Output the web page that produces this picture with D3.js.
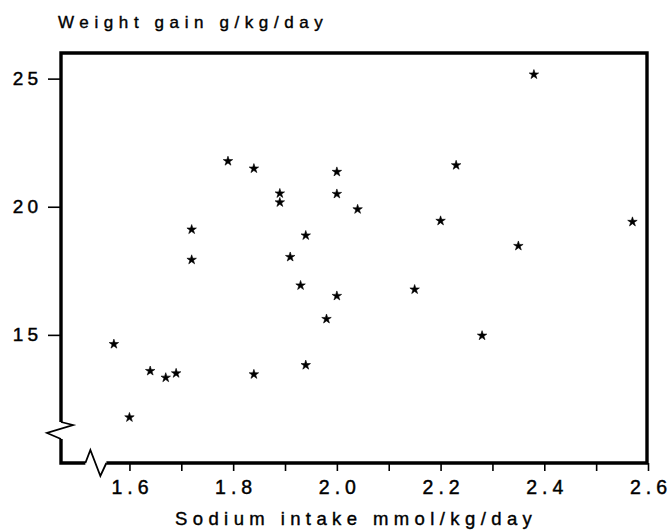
<!DOCTYPE html>
<html>
<head>
<meta charset="utf-8">
<script src="https://cdn.jsdelivr.net/npm/d3@7"></script>
<style>
  html, body { margin: 0; padding: 0; background: #fff; }
  svg { display: block; font-family: "Liberation Sans", Arial, Helvetica, sans-serif; }
</style>
</head>
<body>
<div id="chart"></div>
<script>
// Sodium intake (mmol/kg/day) and weight gain (g/kg/day), one entry per infant
const sodium = [1.57, 1.60, 1.64, 1.67, 1.69, 1.72, 1.72, 1.79, 1.84, 1.84,
                1.89, 1.89, 1.91, 1.93, 1.94, 1.94, 1.98, 2.00, 2.00, 2.00,
                2.04, 2.15, 2.20, 2.23, 2.28, 2.35, 2.38, 2.57];
const weightGain = [14.64, 11.78, 13.59, 13.33, 13.50, 19.11, 17.93, 21.78, 21.49, 13.46,
                    20.52, 20.17, 18.04, 16.93, 18.88, 13.82, 15.62, 21.36, 20.50, 16.52,
                    19.90, 16.77, 19.45, 21.62, 14.97, 18.47, 25.16, 19.41];
const xTicks = [1.6, 1.7, 1.8, 1.9, 2.0, 2.1, 2.2, 2.3, 2.4, 2.5, 2.6];
const xLabels = [1.6, 1.8, 2.0, 2.2, 2.4, 2.6];
const yTicks = [15, 20, 25];

(function() {
  const width = 670, height = 532;
  const margin = { top: 53, right: 23, bottom: 69, left: 61 };
  const L = margin.left, R = width - margin.right;
  const T = margin.top, B = height - margin.bottom;

  const svg = d3.select("#chart").append("svg")
    .attr("width", width)
    .attr("height", height);

  const data = sodium.map((s, i) => ({ x: s, y: weightGain[i] }));

  const x = d3.scaleLinear().domain([1.468, 2.6]).range([L, R + 1]);
  const y = d3.scaleLinear().domain([10, 26]).range([B, T]);

  // spread the characters of a label without trailing space
  function spaced(sel, gap) {
    sel.each(function() {
      const t = d3.select(this);
      const s = t.text();
      t.text(null);
      s.split("").forEach((c, i) => {
        t.append("tspan").attr("dx", i ? gap : 0).text(c);
      });
    });
  }

  // x axis ticks (labels only on every other tick)
  const xAxis = svg.append("g")
    .attr("transform", `translate(0,${B})`)
    .call(d3.axisBottom(x)
      .tickValues(xTicks)
      .tickSize(8)
      .tickSizeOuter(0)
      .tickPadding(9)
      .tickFormat(d => xLabels.some(v => Math.abs(v - d) < 1e-9) ? d3.format(".1f")(d) : ""));
  xAxis.select(".domain").remove();
  xAxis.selectAll(".tick line").attr("stroke", "#000").attr("stroke-width", 1.6);
  xAxis.selectAll(".tick text")
    .attr("fill", "#000")
    .attr("stroke", "#000")
    .attr("stroke-width", 0.45)
    .style("font-size", "19.5px")
    .call(spaced, 5);

  // y axis ticks
  const yAxis = svg.append("g")
    .attr("transform", `translate(${L - 1},0)`)
    .call(d3.axisLeft(y)
      .tickValues(yTicks)
      .tickSize(12)
      .tickSizeOuter(0)
      .tickPadding(10));
  yAxis.select(".domain").remove();
  yAxis.selectAll(".tick line").attr("stroke", "#000").attr("stroke-width", 1.6);
  yAxis.selectAll(".tick text")
    .attr("fill", "#000")
    .attr("stroke", "#000")
    .attr("stroke-width", 0.45)
    .style("font-size", "19px")
    .call(spaced, 4);

  // frame with axis breaks
  const yBreak = y(11.6), xBreak = x(1.515);
  const thick = 3.4, thin = 1.8;
  const frame = svg.append("g").attr("fill", "none").attr("stroke", "#000");

  frame.append("path")
    .attr("stroke-width", thick)
    .attr("d", `M${L},${yBreak} L${L},${T} L${R},${T} L${R},${B} L${xBreak + 21},${B}`);
  frame.append("path")
    .attr("stroke-width", thick)
    .attr("d", `M${L},${yBreak + 17} L${L},${B} L${xBreak},${B}`);
  // zigzag on the y axis
  frame.append("path")
    .attr("stroke-width", thin)
    .attr("d", `M${L},${yBreak} L${L + 12},${yBreak + 3} L${L - 14},${yBreak + 11} L${L},${yBreak + 17}`);
  // zigzag on the x axis
  frame.append("path")
    .attr("stroke-width", thin)
    .attr("d", `M${xBreak},${B} L${xBreak + 5},${B - 13} L${xBreak + 15},${B + 13} L${xBreak + 21},${B}`);

  // points
  const star = d3.symbol().type(d3.symbolStar).size(28);
  svg.append("g")
    .selectAll("path")
    .data(data)
    .join("path")
    .attr("transform", d => `translate(${x(d.x)},${y(d.y)})`)
    .attr("d", star)
    .attr("fill", "#000")
    .attr("stroke", "#000")
    .attr("stroke-width", 0.6);

  // axis titles
  svg.append("text")
    .attr("x", 58)
    .attr("y", 28)
    .attr("fill", "#000")
    .attr("stroke", "#000")
    .attr("stroke-width", 0.4)
    .style("font-size", "17px")
    .style("letter-spacing", "5.6px")
    .text("Weight gain g/kg/day");

  svg.append("text")
    .attr("x", 175)
    .attr("y", 525)
    .attr("fill", "#000")
    .attr("stroke", "#000")
    .attr("stroke-width", 0.4)
    .style("font-size", "18.5px")
    .style("letter-spacing", "5.4px")
    .text("Sodium intake mmol/kg/day");
})();
</script>
</body>
</html>
